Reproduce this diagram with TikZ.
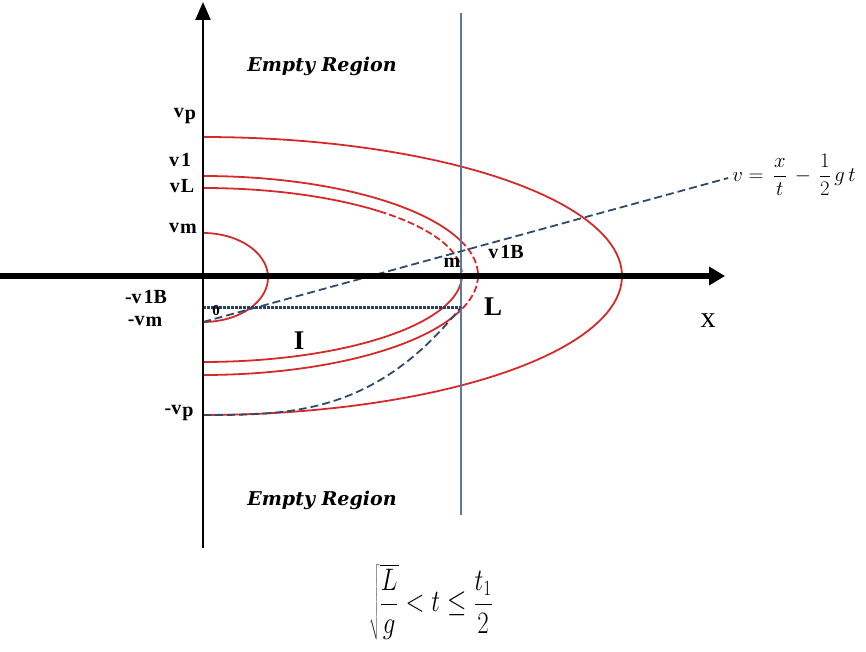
\documentclass[tikz,border=0pt]{standalone}
\usepackage{fontspec}
\setmainfont{Liberation Serif}
\newfontfamily\regfont{DejaVu Serif}
\usetikzlibrary{arrows.meta}
\definecolor{cred}{HTML}{D42A2A}
\definecolor{csteel}{HTML}{5A7AA0}
\definecolor{cslate}{HTML}{2F4A6A}
\definecolor{cnavy}{HTML}{2B3F6B}
\begin{document}
\begin{tikzpicture}[x=1pt,y=-1pt,
  redc/.style={draw=cred, line width=1.8pt},
  reddash/.style={redc, dash pattern=on 7pt off 3pt},
  lbl/.style={inner sep=0pt, font=\fontsize{20}{22}\selectfont\bfseries},
  biglbl/.style={inner sep=0pt, font=\fontsize{27}{30}\selectfont\bfseries},
  empty/.style={inner sep=0pt, font=\fontsize{19}{22}\selectfont\regfont\bfseries\itshape},
  slated/.style={draw=cslate, line width=1.8pt, dash pattern=on 8pt off 4pt}]
\useasboundingbox (0,0) rectangle (866,652);
% coordinates
\coordinate (xstart) at (0,276);
\coordinate (xend) at (725,276);
\coordinate (ybot) at (203,548);
\coordinate (ytop) at (203,2);
\coordinate (Ltop) at (461,13);
\coordinate (Lbot) at (461,515);
\coordinate (vmneg) at (203,322);
\coordinate (vpneg) at (203,415);
\coordinate (vbneg) at (203,307);
\coordinate (Lpt) at (461,307);
% red curves
\draw[redc] plot[domain=90:-90,samples=90] ({203+419*cos(\x)},{276-139*sin(\x)});
\draw[redc] plot[domain=90:20.3,samples=50] ({203+275*cos(\x)},{275.5-99.5*sin(\x)});
\draw[reddash] plot[domain=20.3:-20.3,samples=30] ({203+275*cos(\x)},{275.5-99.5*sin(\x)});
\draw[redc] plot[domain=-20.3:-90,samples=50] ({203+275*cos(\x)},{275.5-99.5*sin(\x)});
\draw[redc] plot[domain=90:47,samples=40] ({203+259*cos(\x)},{275-87*sin(\x)});
\draw[reddash] plot[domain=47:0,samples=40] ({203+259*cos(\x)},{275-87*sin(\x)});
\draw[redc] plot[domain=0:-90,samples=50] ({203+259*cos(\x)},{275-87*sin(\x)});
\draw[redc] plot[domain=90:-90,samples=50] ({203+65*cos(\x)},{277.5-44.5*sin(\x)});
% blue lines
\draw[csteel, line width=1.4pt] (Ltop) -- (Lbot);
\draw[cnavy, line width=3pt, dash pattern=on 3pt off 1pt] (vbneg) -- (Lpt);
\node[inner sep=0pt, font=\fontsize{22}{24}\selectfont] (form) at (794,175)
  {$\displaystyle v=\,\frac{x}{t}\,-\,\frac{1}{2}\,g\,t$};
\draw[slated] (vmneg) -- ([xshift=-4pt,yshift=-3pt]form.west);
\draw[slated] (vpneg) .. controls (289,415) and (375,415) .. (Lpt);
% axes
\draw[line width=6pt, -{Triangle[length=16pt,width=18pt]}] (xstart) -- (xend);
\draw[line width=2.4pt, -{Triangle[length=18pt,width=15pt]}] (ybot) -- (ytop);
% labels
\node[lbl] (lvp) at (185,116) {v\kern1pt\raisebox{-2pt}{p}};
\node[lbl] (lv1) at (180,160) {v\kern2pt1};
\node[lbl] (lvL) at (182,186) {v\kern1ptL};
\node[lbl] (lvm) at (183,228) {v\kern1pt\raisebox{-1pt}{m}};
\node[lbl] (lvb) at (146,297) {-v\kern2pt1B};
\node[lbl] (lvmn) at (145,321) {-v\kern1pt\raisebox{-1pt}{m}};
\node[lbl] (lvpn) at (179,413) {-v\kern1pt\raisebox{-2pt}{p}};
\node[lbl] (lv1b) at (506,252) {v\kern2pt1B};
\node[lbl] (lm) at (452,263) {m};
\node[lbl, font=\fontsize{15}{17}\selectfont\bfseries] (l0) at (216,311) {0};
\node[biglbl] (lL) at (493,307) {L};
\node[biglbl] (lI) at (299,341) {I};
\node[biglbl, font=\fontsize{30}{32}\selectfont] (lx) at (708,321) {x};
\node[empty] (e1) at (322,66) {Empty Region};
\node[empty] (e2) at (322,500) {Empty Region};
\node[inner sep=0pt, font=\fontsize{24}{26}\selectfont, yscale=1.25] (cond) at (431,602)
  {$\displaystyle \sqrt{\frac{L}{g}} < t \le \frac{t_1}{2}$};
\end{tikzpicture}
\end{document}
